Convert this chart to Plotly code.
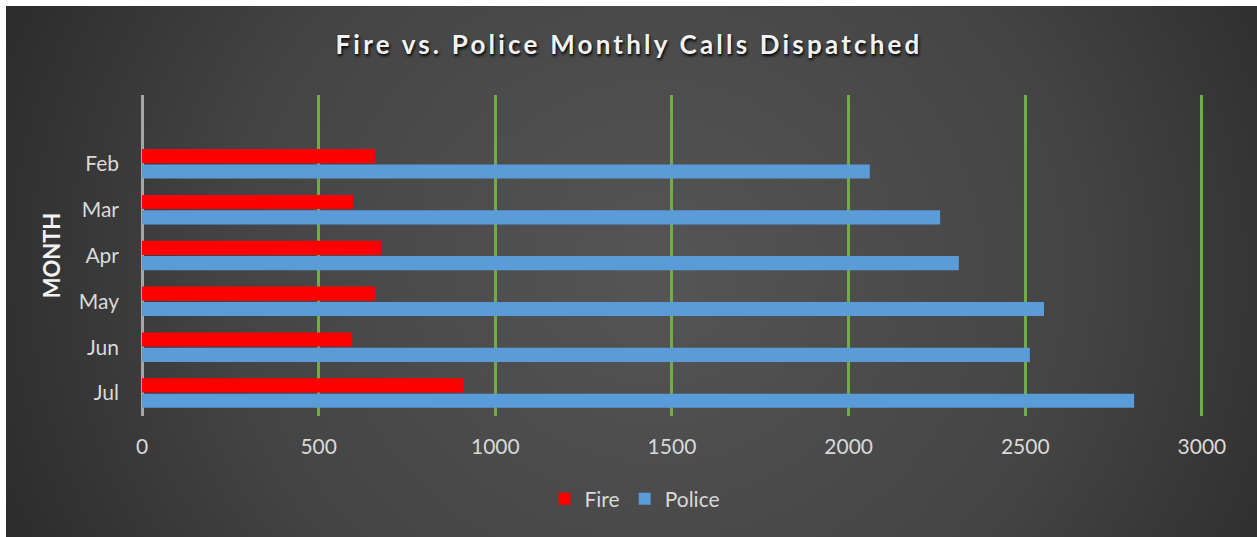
import plotly.graph_objects as go
import base64

months = ["Feb", "Mar", "Apr", "May", "Jun", "Jul"]
fire = [659, 597, 676, 659, 595, 909]
police = [2060, 2259, 2312, 2553, 2513, 2808]
x_ticks = [0, 500, 1000, 1500, 2000, 2500, 3000]

W, H = 1257, 537
L, R, T, B = 142, 54, 95, 121
pw, ph = W - L - R, H - T - B

svg = (
    '<svg xmlns="http://www.w3.org/2000/svg" width="1251" height="531" viewBox="0 0 1251 531" preserveAspectRatio="none">'
    '<defs><radialGradient id="g" cx="0.52" cy="0.5" r="0.62" gradientTransform="translate(0.52 0.5) scale(1 2.2) translate(-0.52 -0.5)">'
    '<stop offset="0" stop-color="#555555"/><stop offset="0.55" stop-color="#444444"/>'
    '<stop offset="1" stop-color="#262626"/></radialGradient></defs>'
    '<rect width="1251" height="531" fill="url(#g)"/></svg>'
)
bg_src = "data:image/svg+xml;base64," + base64.b64encode(svg.encode()).decode()

fig = go.Figure()
fig.add_trace(go.Bar(y=months, x=fire, orientation="h", name="Fire",
                     marker=dict(color="#FF0000", line=dict(width=0))))
fig.add_trace(go.Bar(y=months, x=police, orientation="h", name="Police",
                     marker=dict(color="#5B9BD8", line=dict(width=0))))

fig.add_layout_image(dict(
    source=bg_src, xref="paper", yref="paper",
    x=(6 - L) / pw, y=(H - B - 6) / ph,
    sizex=(W - 6) / pw, sizey=(H - 6) / ph,
    xanchor="left", yanchor="top", sizing="stretch", layer="below"))

fig.update_layout(
    width=W, height=H,
    margin=dict(l=L, r=R, t=T, b=B, autoexpand=False),
    paper_bgcolor="white", plot_bgcolor="rgba(0,0,0,0)",
    barmode="group", bargap=0.33, bargroupgap=0.08,
    title=dict(text="Fire vs. Police Monthly Calls Dispatched",
               x=629 / W, xref="container", xanchor="center", y=(H - 45) / H, yanchor="middle",
               font=dict(family="Lato", size=26, color="#f2f2f2", weight="bold",
                         shadow="1px 2px 3px #000000")),
    font=dict(family="Lato", color="#d9d9d9", size=21),
    legend=dict(orientation="h", xref="paper", x=(635 - L) / pw, xanchor="center",
                y=(416 - 499) / ph, yanchor="middle",
                font=dict(size=21, color="#d9d9d9"), bgcolor="rgba(0,0,0,0)",
                traceorder="normal", itemwidth=30),
    xaxis=dict(range=[0, 3003], tickvals=x_ticks, showgrid=True, gridcolor="#70AD47",
               gridwidth=3, zeroline=True, zerolinecolor="#a6a6a6", zerolinewidth=3,
               showline=False, ticks="", ticklabelstandoff=16,
               tickfont=dict(size=21, color="#d9d9d9")),
    yaxis=dict(categoryorder="array", categoryarray=months, range=[5.5, -1.5],
               showgrid=False, zeroline=False, showline=False, ticks="",
               ticklabelstandoff=22, tickfont=dict(size=21, color="#d9d9d9"),
               title=dict(text="MONTH", standoff=12,
                          font=dict(size=22, color="#f2f2f2", weight="bold"))),
)

post = (
    "document.body.style.margin='0';document.body.style.padding='0';"
    "document.querySelectorAll('.gtitle').forEach(function(t){t.style.letterSpacing='3.2px';});"
)
fig.write_html("out.html", post_script=post, config={"displayModeBar": False})
